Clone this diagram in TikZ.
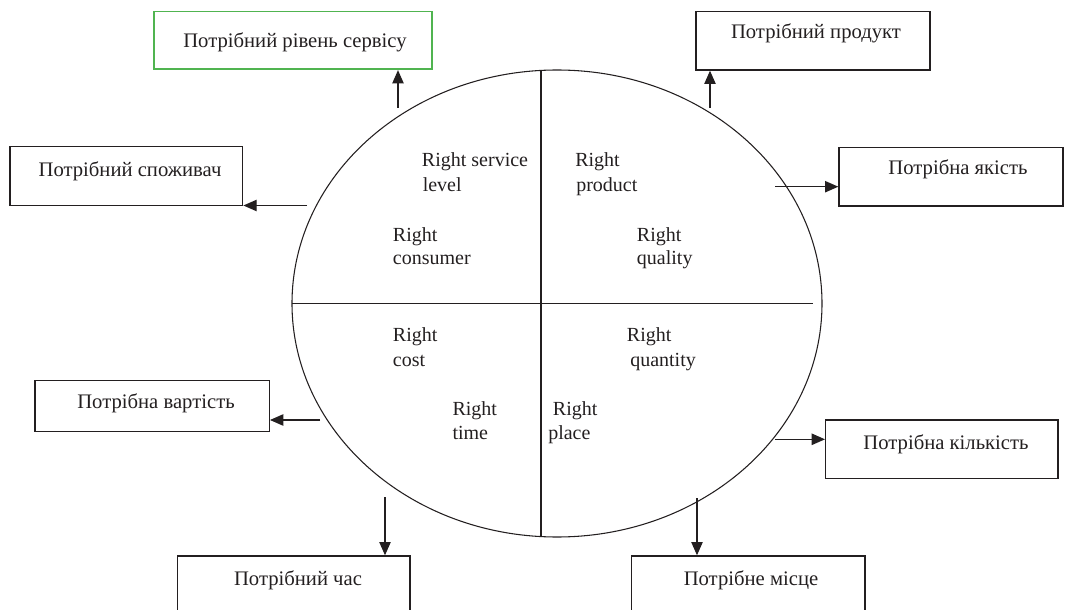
\documentclass[tikz,border=0pt]{standalone}
\usepackage{fontspec}
\setmainfont{Liberation Serif}
\usetikzlibrary{arrows.meta,fit}
\definecolor{boxgreen}{RGB}{80,180,80}
\definecolor{ink}{RGB}{35,31,32}
\tikzset{
  box/.style={draw=ink, line width=1pt, inner sep=0pt, fit={#1}},
  gbox/.style={draw=boxgreen, line width=1.2pt, inner sep=0pt, fit={#1}},
  txt/.style={text=ink, inner sep=0pt, anchor=base, font=\fontsize{15.5}{18}\selectfont},
  lbl/.style={text=ink, inner sep=0pt, anchor=base west},
  arr/.style={draw=ink, line width=1pt, -{Triangle[length=10pt,width=8.5pt]}},
  divline/.style={draw=ink, line width=0.8pt}
}
\begin{document}
\begin{tikzpicture}[x=0.75pt,y=-0.75pt,font=\fontsize{15}{18}\selectfont]
\useasboundingbox (0,0) rectangle (1065,610);

% ellipse and dividers
\draw[divline] (557,303.5) ellipse [x radius=265, y radius=233.5];
\coordinate (vt) at (541,70);
\coordinate (vb) at (541,537);
\coordinate (hl) at (292,303.5);
\coordinate (hr) at (813,303.5);
\draw[divline] (vt) -- (vb);
\draw[divline] (hl) -- (hr);

% boxes
\node[gbox={(154,11.7)(431.7,69.3)}] (sv) {};
\node[box={(696,11.7)(930,70)}] (prod) {};
\node[box={(10,146.7)(242.7,205.5)}] (cons) {};
\node[box={(839,147.3)(1063,206)}] (qual) {};
\node[box={(35,380.7)(269.3,431.7)}] (cost) {};
\node[box={(825.7,420)(1058,478.3)}] (qty) {};
\node[box={(177.3,556)(410,630)}] (time) {};
\node[box={(631.7,556)(865,630)}] (place) {};

% box texts
\node[txt] (tsv) at (295,48) {Потрібний рівень сервісу};
\node[txt] (tprod) at (816,38.3) {Потрібний продукт};
\node[txt] (tcons) at (130,176.7) {Потрібний споживач};
\node[txt] (tqual) at (958,175) {Потрібна якість};
\node[txt] (tcost) at (156,408.3) {Потрібна вартість};
\node[txt] (tqty) at (946,449.3) {Потрібна кількість};
\node[txt] (ttime) at (298,585) {Потрібний час};
\node[txt] (tplace) at (751,585) {Потрібне місце};

% arrows
\coordinate (s1) at (398,108);
\coordinate (s2) at (710,108);
\coordinate (s3) at (307,205.5);
\coordinate (s4) at (775,186.7);
\coordinate (s5) at (320,420);
\coordinate (s6) at (775,439.3);
\coordinate (s7) at (385,497.3);
\coordinate (s8) at (697,498.3);
\draw[arr] (s1) -- (s1 |- sv.south);
\draw[arr] (s2) -- (s2 |- prod.south);
\draw[arr] (s3) -- (s3 -| cons.east);
\draw[arr] (s4) -- (s4 -| qual.west);
\draw[arr] (s5) -- (s5 -| cost.east);
\draw[arr] (s6) -- (s6 -| qty.west);
\draw[arr] (s7) -- (s7 |- time.north);
\draw[arr] (s8) -- (s8 |- place.north);

% inner labels
\node[lbl] (l1a) at (421.7,166.7) {Right service};
\node[lbl] (l1b) at (422.5,191) {level};
\node[lbl] (l2a) at (392.7,241.7) {Right};
\node[lbl] (l2b) at (392.7,264) {consumer};
\node[lbl] (l3a) at (575,166.7) {Right};
\node[lbl] (l3b) at (576,191) {product};
\node[lbl] (l4a) at (636.7,241.7) {Right};
\node[lbl] (l4b) at (636.7,264) {quality};
\node[lbl] (l5a) at (392.7,341.7) {Right};
\node[lbl] (l5b) at (392.7,366) {cost};
\node[lbl] (l6a) at (452.3,415) {Right};
\node[lbl] (l6b) at (452.3,439.3) {time};
\node[lbl] (l7a) at (552.7,415) {Right};
\node[lbl] (l7b) at (548,439.3) {place};
\node[lbl] (l8a) at (626.7,341.7) {Right};
\node[lbl] (l8b) at (630,366) {quantity};
\end{tikzpicture}
\end{document}
